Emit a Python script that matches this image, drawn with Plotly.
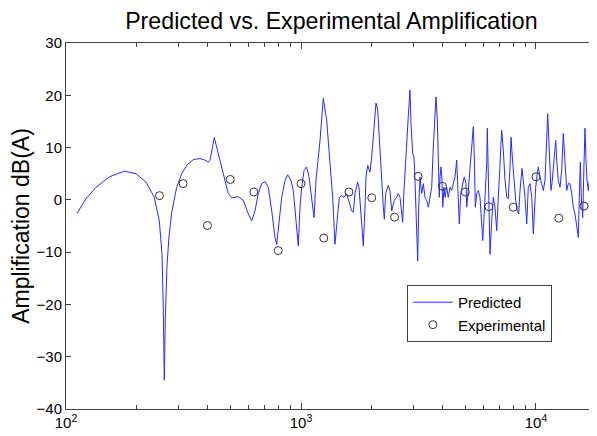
import plotly.graph_objects as go

# Predicted curve (Hz, dB(A))
pred_freq = [111.4, 121.6, 134.2, 152.8, 177.1, 198.6, 219.0, 237.5, 249.5, 256.2, 259.4, 262.0,
             264.6, 269.0, 274.3, 281.7, 295.8, 310.7, 326.3, 348.1, 371.7, 390.4, 403.2, 410.0,
             427.6, 444.7, 467.1, 490.5, 507.1, 541.0, 568.2, 596.7, 616.9, 637.2, 658.1, 680.4,
             702.8, 725.9, 750.5, 775.2, 788.2, 800.6, 827.8, 855.0, 877.9, 906.7, 927.4, 952.2,
             973.9, 990.2, 1007, 1030, 1057, 1082, 1111, 1136, 1158, 1205, 1244, 1286, 1329, 1364,
             1395, 1427, 1455, 1490, 1524, 1565, 1589, 1643, 1669, 1697, 1743, 1765, 1800, 1841,
             1872, 1890, 1922, 1966, 1999, 2050, 2085, 2120, 2153, 2205, 2240, 2262, 2293, 2352,
             2391, 2432, 2494, 2554, 2594, 2638, 2682, 2708, 2743, 2770, 2817, 2861, 2909, 2938,
             2987, 3025, 3055, 3107, 3138, 3169, 3209, 3263, 3315, 3370, 3427, 3481, 3540, 3599,
             3656, 3717, 3754, 3802, 3839, 3877, 3904, 3942, 3981, 4009, 4060, 4100, 4169, 4235,
             4306, 4378, 4447, 4522, 4598, 4671, 4717, 4782, 4877, 4954, 5037, 5072, 5152, 5274,
             5379, 5410, 5464, 5518, 5594, 5682, 5778, 5875, 5933, 6009, 6086, 6169, 6206, 6267,
             6329, 6372, 6479, 6582, 6692, 6805, 6912, 7029, 7147, 7260, 7382, 7506, 7624, 7752,
             7829, 7929, 8062, 8198, 8328, 8443, 8551, 8720, 8832, 8980, 9131, 9275, 9431, 9590,
             9741, 9835, 9971, 10128, 10228, 10400, 10574, 10741, 10923, 11106, 11216, 11326, 11471,
             11584, 11733, 11930, 12130, 12250, 12443, 12652, 12864, 13068, 13287, 13511, 13724,
             13955, 14189, 14414, 14656, 14902, 15136, 15286, 15436, 15588, 15803, 16006, 16164,
             16323, 16484, 16695, 16859]
pred_db = [-2.6, 0.2, 2.4, 4.4, 5.5, 5.0, 3.4, 0.5, -4.0, -10.4, -20.5, -34.5,
           -22.8, -12.6, -7.1, -2.4, 2.4, 5.0, 6.6, 7.7, 7.9, 7.6, 7.2, 7.6,
           11.9, 8.9, 5.0, 1.2, 0.4, 0.6, -0.1, -2.7, -4.0, -2.1, 1.2, 3.1,
           3.5, 2.4, -2.1, -7.2, -8.5, -5.3, 0.5, 3.7, 4.8, 3.7, 1.8, -4.0,
           -8.8, -1.4, 2.4, 5.6, 6.3, 4.4, -0.1, -3.4, 3.7, 11.4, 19.4, 15.3, 6.9, 0.5,
           -8.5, -2.7, 0.5, 0.8, 0.5, 1.2, 0.2, -2.1, -2.4, 1.2, 3.4, 2.4, -2.7, -8.8,
           -1.4, 4.4, 6.6, 5.3, 8.2, 14.6, 18.5, 17.2, 11.4, 5.0, -1.4, -3.7, 1.2, 2.8,
           1.8, -2.1, -0.1, 0.5, 1.2, 0.5, -2.7, -4.3, 1.8, 5.6, 10.1, 15.9, 21.0, 14.6,
           8.9, 8.2, 3.7, -6.5, -11.7, -1.4, 4.4, 1.2, 3.1, 0.5, -0.1, -1.4, 0.5, 2.4,
           10.1, 16.5, 19.7, 15.3, 3.7, 0.5, 4.4, 6.3, 3.7, -1.4, 2.4, 0.5, 2.4, 0.5,
           2.4, 1.8, 3.1, 4.4, 7.6, -0.1, -4.6, 1.2, 3.1, 4.4, 3.1, -1.4, 1.8, 6.9,
           12.0, 14.0, 8.2, -1.4, 1.2, 1.8, 0.5, -4.0, -7.8, -3.4, 1.8, 6.9, 13.7, 5.0,
           -5.3, -10.4, -4.0, 0.5, -1.4, -5.9, 0.5, 8.2, 13.3, 9.5, 3.7, 0.5, 0.2, 6.3,
           12.0, 8.2, 3.7, -0.1, -2.1, -2.7, 1.8, 6.0, 3.7, 0.5, -4.6, 2.4, 3.1, 0.5,
           -6.5, -2.7, 2.4, 5.0, 6.3, 4.4, 3.1, 1.8, 3.7, 12.0, 16.5, 12.0, 5.0,
           1.8, 3.7, 7.6, 11.4, 7.6, 3.7, 2.4, 5.6, 12.7, 6.9, 1.8, 3.1,
           3.1, 1.2, -1.4, -2.7, -5.3, -7.2, 0.5, 7.2, 0.5, -3.4, 6.9, 13.7,
           7.6, 3.7, 1.8, 3.7]

# Experimental points (1/3-octave bands)
exp_freq = [250, 315, 400, 500, 630, 800, 1000, 1250, 1600, 2000, 2500, 3150,
            4000, 5000, 6300, 8000, 10000, 12500, 16000]
exp_db = [0.8, 3.1, -4.9, 3.9, 1.5, -9.7, 3.1, -7.3, 1.5, 0.4, -3.3, 4.5,
          2.6, 1.5, -1.3, -1.4, 4.4, -3.5, -1.2]

x_major = [100, 1000, 10000]
x_major_text = ["10<sup>2</sup>", "10<sup>3</sup>", "10<sup>4</sup>"]
x_minor = [m * d for d in (100, 1000, 10000) for m in range(2, 10) if m * d <= 18000]
y_ticks = [-40, -30, -20, -10, 0, 10, 20, 30]

AX = "#404040"
FONT = "Liberation Sans, Arial, sans-serif"

fig = go.Figure()
fig.add_trace(go.Scatter(x=pred_freq, y=pred_db, mode="lines", name="Predicted",
                         line=dict(color="#2a2aff", width=1)))
fig.add_trace(go.Scatter(x=exp_freq, y=exp_db, mode="markers", name="Experimental",
                         marker=dict(symbol="circle-open", size=8,
                                     color="#333333", line=dict(width=1, color="#333333"))))

# page body adds an 8px offset; figure sized to fill the rest of the window
fig.update_layout(
    width=589, height=428,
    margin=dict(l=58, r=0, t=35, b=27, autoexpand=False),
    paper_bgcolor="white", plot_bgcolor="white",
    font=dict(family=FONT, size=15, color="black"),
    title=dict(text="Predicted vs. Experimental Amplification", x=0.549, xanchor="center",
               y=0.99, yanchor="top", font=dict(size=23.2, family=FONT, color="black")),
    showlegend=True,
    legend=dict(x=0.642, y=0.339, xanchor="left", yanchor="top",
                bgcolor="white", bordercolor=AX, borderwidth=1,
                font=dict(size=15, family=FONT, color="black"),
                tracegroupgap=0, itemwidth=40),
)
fig.update_xaxes(type="log", range=[2, 4.2596], showgrid=False, zeroline=False,
                 automargin=False,
                 showline=True, linecolor=AX, linewidth=1, mirror="ticks",
                 ticks="inside", ticklen=6, tickcolor=AX,
                 tickmode="array", tickvals=x_major, ticktext=x_major_text,
                 tickfont=dict(size=15, family=FONT, color="black"),
                 minor=dict(tickmode="array", tickvals=x_minor, ticks="inside",
                            ticklen=4, tickcolor=AX, showgrid=False))
fig.update_yaxes(range=[-40, 30], showgrid=False, zeroline=False,
                 automargin=False,
                 showline=True, linecolor=AX, linewidth=1, mirror="ticks",
                 ticks="inside", ticklen=5, tickcolor=AX,
                 tickmode="array", tickvals=y_ticks,
                 tickfont=dict(size=15, family=FONT, color="black"),
                 title=dict(text="Amplification dB(A)", standoff=4,
                            font=dict(size=23, family=FONT, color="black")))

fig.write_html("out.html")
